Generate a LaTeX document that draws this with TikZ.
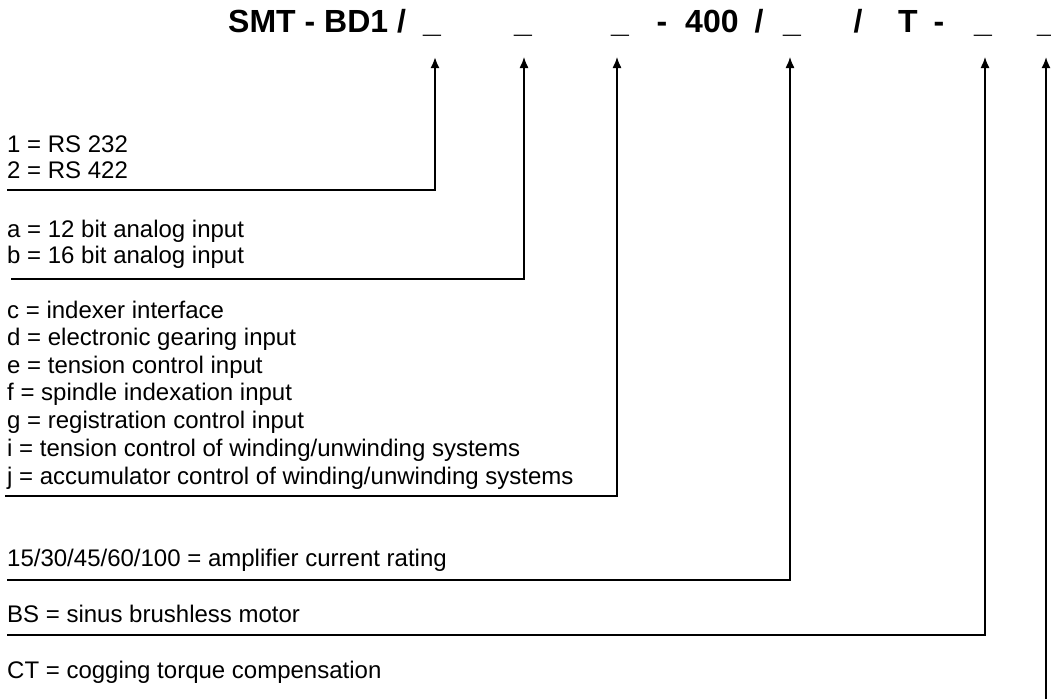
\documentclass[tikz,border=0pt]{standalone}
\usepackage{fontspec}
\setmainfont{Liberation Sans}
\usetikzlibrary{arrows.meta}

\begin{document}
\begin{tikzpicture}[
  x=1pt,y=-1pt,
  code/.style={anchor=base west,inner sep=0pt,font=\fontsize{32}{32}\bfseries\selectfont},
  gap/.style={anchor=base,inner sep=0pt,font=\fontsize{32}{32}\bfseries\selectfont},
  option/.style={anchor=base west,inner sep=0pt,font=\fontsize{24}{24}\selectfont},
  pointer/.style={line width=1.3pt,-{Latex[length=11pt,width=9pt]}}
]
\useasboundingbox (0,0) rectangle (1051,699);

% type code
\node[code] (head) at (228,32) {SMT - BD1 /};
\node[gap] (u1) at (432,32) {\_};
\node[gap] (u2) at (523,32) {\_};
\node[gap] (u3) at (620,32) {\_};
\node[gap] (dash1) at (662,32) {-};
\node[code] (amps) at (685,32) {400};
\node[gap] (slash1) at (759,32) {/};
\node[gap] (u4) at (792,32) {\_};
\node[gap] (slash2) at (858,32) {/};
\node[code] (tee) at (898,32) {T};
\node[gap] (dash2) at (939,32) {-};
\node[gap] (u5) at (983,32) {\_};
\node[gap] (u6) at (1046,32) {\_};

% options
\node[option] (rs1) at (7,152) {1 = RS 232};
\node[option] (rs2) at (7,178) {2 = RS 422};
\node[option] (ana) at (7,237) {a = 12 bit analog input};
\node[option] (anb) at (7,263) {b = 16 bit analog input};
\node[option] (fc) at (7,318) {c = indexer interface};
\node[option] (fd) at (7,345) {d = electronic gearing input};
\node[option] (fe) at (7,373) {e = tension control input};
\node[option] (ff) at (7,400) {f = spindle indexation input};
\node[option] (fg) at (7,428) {g = registration control input};
\node[option] (fi) at (7,456) {i = tension control of winding/unwinding systems};
\node[option] (fj) at (7,484) {j = accumulator control of winding/unwinding systems};
\node[option] (cur) at (7,566) {15/30/45/60/100 = amplifier current rating};
\node[option] (bs) at (7,622) {BS = sinus brushless motor};
\node[option] (ct) at (7,678) {CT = cogging torque compensation};

% leader lines
\foreach \n/\s/\x/\y in {2/11/524/279,3/5/617/496,4/7/790/580,5/7/985/635} {
  \coordinate (start\n) at (\s,\y);
  \coordinate (tip\n) at (\x,57);
  \draw[pointer] (start\n) -| (tip\n);
}
\coordinate (start1) at (7,190);
\coordinate (tip1) at (435,57);
\draw[pointer,line width=2pt] (start1) -| (tip1);
\coordinate (foot6) at (1046,699);
\coordinate (tip6) at (1046,57);
\draw[pointer,line width=1.8pt] (foot6) -- (tip6);

\end{tikzpicture}
\end{document}
